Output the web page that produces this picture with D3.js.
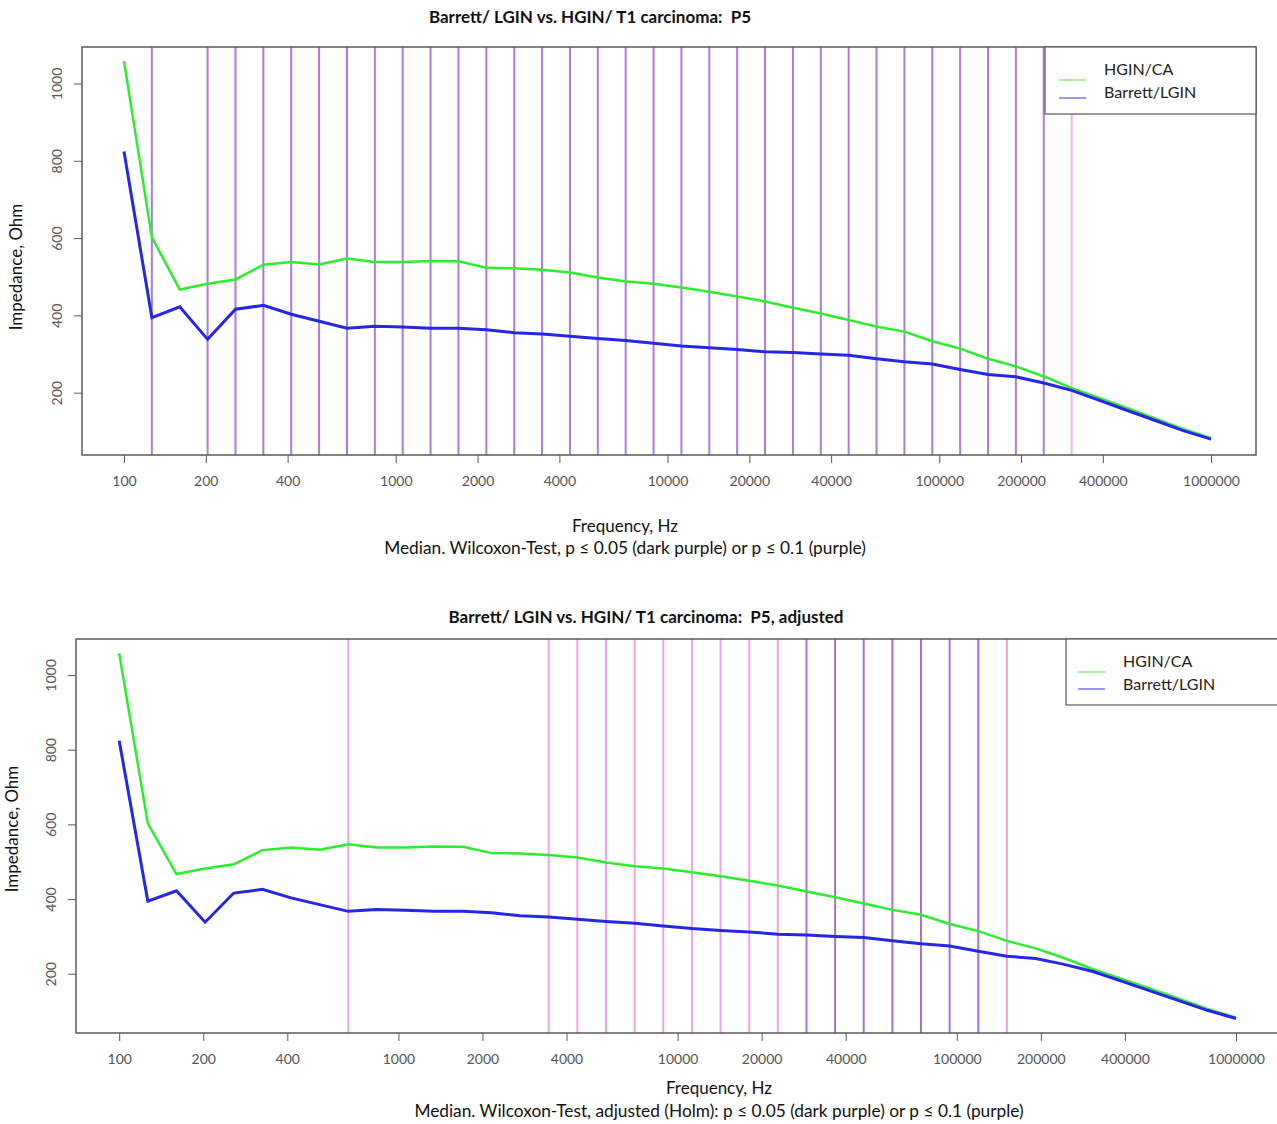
<!DOCTYPE html>
<html>
<head>
<meta charset="utf-8">
<script src="https://cdn.jsdelivr.net/npm/d3@7"></script>
<style>
  body { margin: 0; background: #fff; }
  svg text { font-family: Lato, "Liberation Sans", sans-serif; white-space: pre; }
</style>
</head>
<body>
<svg id="chart" width="1277" height="1124"></svg>
<script>
// measurement frequencies (Hz), 40 log-spaced points
const freqs = [100, 126.64, 160.37, 203.09, 257.19, 325.70, 412.46, 522.33, 661.47, 837.68,
               1060.8, 1343.4, 1701.3, 2154.4, 2728.3, 3455.1, 4375.4, 5541.0, 7017.0, 8886.2,
               11253, 14251, 18047, 22854, 28943, 36653, 46416, 58780, 74438, 94267,
               119378, 151180, 191450, 242450, 307030, 388820, 492400, 623560, 789680, 1000000];

// median impedance (Ohm)
const hginCA = [1058, 602, 467, 482, 493, 531, 538, 532, 547, 538,
                538, 541, 540, 523, 522, 518, 511, 498, 488, 482,
                472, 461, 449, 436, 420, 405, 388, 371, 358, 333,
                314, 288, 268, 242, 212, 186, 160, 133, 106, 82];
const barrettLGIN = [824, 394, 422, 338, 416, 426, 403, 385, 367, 372,
                     370, 367, 367, 363, 355, 352, 346, 340, 335, 328,
                     321, 316, 312, 306, 304, 300, 297, 288, 280, 274,
                     260, 247, 241, 225, 206, 180, 154, 128, 102, 80];

const xTicks = [100, 200, 400, 1000, 2000, 4000, 10000, 20000, 40000, 100000, 200000, 400000, 1000000];
const yTicks = [200, 400, 600, 800, 1000];

// significant frequencies, as index into freqs
const topSig05 = [1, 3, 4, 5, 6, 7, 8, 9, 10, 11, 12, 13, 14, 15, 16, 17, 18, 19, 20, 21, 22,
                  23, 24, 25, 26, 27, 28, 29, 30, 31, 32, 33];
const topSig10 = [34];
const adjSig05 = [24, 25, 26, 27, 28, 29, 30];
const adjSig10 = [8, 15, 16, 17, 18, 19, 20, 21, 22, 23, 31];

const seriesNames = ["HGIN/CA", "Barrett/LGIN"];

const svg = d3.select("#chart");
svg.append("rect").attr("width", 1277).attr("height", 1124).attr("fill", "#fff");

const panels = [
  {
    title: "Barrett/ LGIN vs. HGIN/ T1 carcinoma:  P5",
    sub: "Median. Wilcoxon-Test, p \u2264 0.05 (dark purple) or p \u2264 0.1 (purple)",
    box: {left: 82, right: 1256, top: 47, bottom: 455},
    xr: [124, 1211], yr: [470, 83.5],
    titleAt: [590, 23], xlabAt: [625, 532], subAt: [625, 554], ylabAt: [22, 267],
    legend: {x: 1045, y: 47, w: 211, h: 67, l0: 1059, l1: 1086, tx: 1104, ly: [80, 98], ty: [75, 98]},
    sig05: topSig05, sig10: topSig10, c05: "#ac7ae2", c10: "#f3b0f3"
  },
  {
    title: "Barrett/ LGIN vs. HGIN/ T1 carcinoma:  P5, adjusted",
    sub: "Median. Wilcoxon-Test, adjusted (Holm): p \u2264 0.05 (dark purple) or p \u2264 0.1 (purple)",
    box: {left: 76, right: 1295, top: 639, bottom: 1033},
    xr: [119.2, 1236], yr: [1048.4, 675],
    titleAt: [646, 623], xlabAt: [719, 1094], subAt: [719, 1117], ylabAt: [18, 829],
    legend: {x: 1066, y: 639, w: 240, h: 66, l0: 1078, l1: 1105, tx: 1123, ly: [672, 689], ty: [667, 690]},
    sig05: adjSig05, sig10: adjSig10, c05: "#a96fe0", c10: "#f0a2f0"
  }
];

panels.forEach(p => {
  const x = d3.scaleLog().domain([100, 1000000]).range(p.xr);
  const y = d3.scaleLinear().domain([0, 1000]).range(p.yr);
  const g = svg.append("g");

  // significance lines
  const sig = p.sig10.map(i => ({f: freqs[i], c: p.c10})).concat(p.sig05.map(i => ({f: freqs[i], c: p.c05})));
  g.selectAll("line.sig")
    .data(sig)
    .enter()
    .append("line")
    .attr("class", "sig")
    .attr("x1", d => x(d.f)).attr("x2", d => x(d.f))
    .attr("y1", p.box.top).attr("y2", p.box.bottom)
    .attr("stroke", d => d.c)
    .attr("stroke-width", 2);

  // curves
  const line = d3.line().x((d, i) => x(freqs[i])).y(d => y(d));
  g.append("path").datum(hginCA).attr("d", line)
    .attr("fill", "none").attr("stroke", "#2cee2c").attr("stroke-width", 2.5);
  g.append("path").datum(barrettLGIN).attr("d", line)
    .attr("fill", "none").attr("stroke", "#2626e6").attr("stroke-width", 3);

  // plot box
  g.append("rect")
    .attr("x", p.box.left).attr("y", p.box.top)
    .attr("width", p.box.right - p.box.left).attr("height", p.box.bottom - p.box.top)
    .attr("fill", "none").attr("stroke", "#5a5a5a").attr("stroke-width", 1.5);

  // legend
  const lg = p.legend;
  g.append("rect").attr("x", lg.x).attr("y", lg.y).attr("width", lg.w).attr("height", lg.h)
    .attr("fill", "#fff").attr("stroke", "#5a5a5a").attr("stroke-width", 1.2);
  const lcol = ["#86ee86", "#7878ee"];
  seriesNames.forEach((name, i) => {
    g.append("line").attr("x1", lg.l0).attr("x2", lg.l1).attr("y1", lg.ly[i]).attr("y2", lg.ly[i])
      .attr("stroke", lcol[i]).attr("stroke-width", 1.5);
    g.append("text").attr("x", lg.tx).attr("y", lg.ty[i]).text(name)
      .attr("font-size", 16).attr("fill", "#222");
  });

  // axes
  const xAxis = d3.axisBottom(x).tickValues(xTicks).tickFormat(d3.format("d")).tickSize(8).tickPadding(13);
  g.append("g")
    .attr("transform", `translate(0, ${p.box.bottom})`)
    .call(xAxis)
    .call(a => a.select(".domain").remove())
    .call(a => a.selectAll("line").attr("stroke", "#5a5a5a"))
    .call(a => a.selectAll("text").attr("fill", "#555").attr("font-size", 14)
      .attr("font-family", "'Liberation Sans', Arial, sans-serif"));

  const yAxis = d3.axisLeft(y).tickValues(yTicks).tickFormat(d3.format("d")).tickSize(8);
  g.append("g")
    .attr("transform", `translate(${p.box.left}, 0)`)
    .call(yAxis)
    .call(a => a.select(".domain").remove())
    .call(a => a.selectAll("line").attr("stroke", "#5a5a5a"))
    .call(a => a.selectAll("text")
      .attr("transform", "rotate(-90)")
      .attr("x", 0).attr("y", -20).attr("dy", 0)
      .attr("text-anchor", "middle")
      .attr("fill", "#555").attr("font-size", 14)
      .attr("font-family", "'Liberation Sans', Arial, sans-serif"));

  // titles
  g.append("text").attr("x", p.titleAt[0]).attr("y", p.titleAt[1])
    .attr("text-anchor", "middle").attr("font-weight", "bold").attr("font-size", 17)
    .attr("fill", "#111").text(p.title);
  g.append("text").attr("x", p.xlabAt[0]).attr("y", p.xlabAt[1])
    .attr("text-anchor", "middle").attr("font-size", 17).attr("fill", "#111").text("Frequency, Hz");
  g.append("text").attr("x", p.subAt[0]).attr("y", p.subAt[1])
    .attr("text-anchor", "middle").attr("font-size", 17.3).attr("fill", "#111").text(p.sub);
  g.append("text")
    .attr("transform", `translate(${p.ylabAt[0]}, ${p.ylabAt[1]}) rotate(-90)`)
    .attr("text-anchor", "middle").attr("font-size", 17).attr("fill", "#111").text("Impedance, Ohm");
});
</script>
</body>
</html>
